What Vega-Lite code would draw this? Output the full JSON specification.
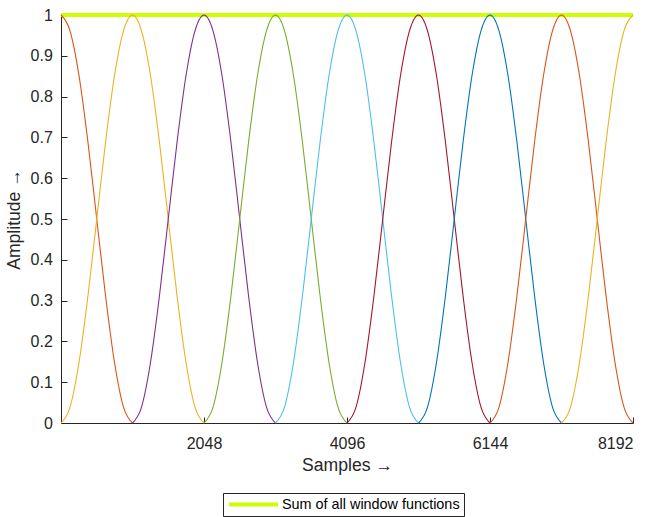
{
  "$schema": "https://vega.github.io/schema/vega-lite/v6.json",
  "width": 572,
  "height": 408,
  "autosize": {"type": "none"},
  "padding": {"left": 61, "top": 15, "right": 18, "bottom": 94},
  "background": "white",
  "config": {
    "view": {"stroke": null},
    "font": "Liberation Sans",
    "axis": {
      "grid": false,
      "domainColor": "#262626",
      "domainWidth": 1,
      "tickColor": "#262626",
      "tickSize": -6,
      "tickWidth": 1,
      "labelColor": "#262626",
      "labelFont": "Liberation Sans",
      "labelFontSize": 16,
      "titleFont": "Liberation Sans",
      "titleFontSize": 17.6,
      "titleFontWeight": "normal",
      "titleColor": "#262626"
    },
    "legend": {
      "labelFont": "Liberation Sans"
    }
  },
  "datasets": {
    "sum": [
      {"s": 0, "y": 1},
      {"s": 8192, "y": 1}
    ],
    "win": [
      {"w":"w0","s":0,"y":1},{"w":"w0","s":128,"y":0.9619},{"w":"w0","s":256,"y":0.8536},{"w":"w0","s":384,"y":0.6913},{"w":"w0","s":512,"y":0.5},{"w":"w0","s":640,"y":0.3087},{"w":"w0","s":768,"y":0.1464},{"w":"w0","s":896,"y":0.0381},{"w":"w0","s":1024,"y":0},
      {"w":"w1","s":0,"y":0},{"w":"w1","s":128,"y":0.0381},{"w":"w1","s":256,"y":0.1464},{"w":"w1","s":384,"y":0.3087},{"w":"w1","s":512,"y":0.5},{"w":"w1","s":640,"y":0.6913},{"w":"w1","s":768,"y":0.8536},{"w":"w1","s":896,"y":0.9619},{"w":"w1","s":1024,"y":1},{"w":"w1","s":1152,"y":0.9619},{"w":"w1","s":1280,"y":0.8536},{"w":"w1","s":1408,"y":0.6913},{"w":"w1","s":1536,"y":0.5},{"w":"w1","s":1664,"y":0.3087},{"w":"w1","s":1792,"y":0.1464},{"w":"w1","s":1920,"y":0.0381},{"w":"w1","s":2048,"y":0},
      {"w":"w2","s":1024,"y":0},{"w":"w2","s":1152,"y":0.0381},{"w":"w2","s":1280,"y":0.1464},{"w":"w2","s":1408,"y":0.3087},{"w":"w2","s":1536,"y":0.5},{"w":"w2","s":1664,"y":0.6913},{"w":"w2","s":1792,"y":0.8536},{"w":"w2","s":1920,"y":0.9619},{"w":"w2","s":2048,"y":1},{"w":"w2","s":2176,"y":0.9619},{"w":"w2","s":2304,"y":0.8536},{"w":"w2","s":2432,"y":0.6913},{"w":"w2","s":2560,"y":0.5},{"w":"w2","s":2688,"y":0.3087},{"w":"w2","s":2816,"y":0.1464},{"w":"w2","s":2944,"y":0.0381},{"w":"w2","s":3072,"y":0},
      {"w":"w3","s":2048,"y":0},{"w":"w3","s":2176,"y":0.0381},{"w":"w3","s":2304,"y":0.1464},{"w":"w3","s":2432,"y":0.3087},{"w":"w3","s":2560,"y":0.5},{"w":"w3","s":2688,"y":0.6913},{"w":"w3","s":2816,"y":0.8536},{"w":"w3","s":2944,"y":0.9619},{"w":"w3","s":3072,"y":1},{"w":"w3","s":3200,"y":0.9619},{"w":"w3","s":3328,"y":0.8536},{"w":"w3","s":3456,"y":0.6913},{"w":"w3","s":3584,"y":0.5},{"w":"w3","s":3712,"y":0.3087},{"w":"w3","s":3840,"y":0.1464},{"w":"w3","s":3968,"y":0.0381},{"w":"w3","s":4096,"y":0},
      {"w":"w4","s":3072,"y":0},{"w":"w4","s":3200,"y":0.0381},{"w":"w4","s":3328,"y":0.1464},{"w":"w4","s":3456,"y":0.3087},{"w":"w4","s":3584,"y":0.5},{"w":"w4","s":3712,"y":0.6913},{"w":"w4","s":3840,"y":0.8536},{"w":"w4","s":3968,"y":0.9619},{"w":"w4","s":4096,"y":1},{"w":"w4","s":4224,"y":0.9619},{"w":"w4","s":4352,"y":0.8536},{"w":"w4","s":4480,"y":0.6913},{"w":"w4","s":4608,"y":0.5},{"w":"w4","s":4736,"y":0.3087},{"w":"w4","s":4864,"y":0.1464},{"w":"w4","s":4992,"y":0.0381},{"w":"w4","s":5120,"y":0},
      {"w":"w5","s":4096,"y":0},{"w":"w5","s":4224,"y":0.0381},{"w":"w5","s":4352,"y":0.1464},{"w":"w5","s":4480,"y":0.3087},{"w":"w5","s":4608,"y":0.5},{"w":"w5","s":4736,"y":0.6913},{"w":"w5","s":4864,"y":0.8536},{"w":"w5","s":4992,"y":0.9619},{"w":"w5","s":5120,"y":1},{"w":"w5","s":5248,"y":0.9619},{"w":"w5","s":5376,"y":0.8536},{"w":"w5","s":5504,"y":0.6913},{"w":"w5","s":5632,"y":0.5},{"w":"w5","s":5760,"y":0.3087},{"w":"w5","s":5888,"y":0.1464},{"w":"w5","s":6016,"y":0.0381},{"w":"w5","s":6144,"y":0},
      {"w":"w6","s":5120,"y":0},{"w":"w6","s":5248,"y":0.0381},{"w":"w6","s":5376,"y":0.1464},{"w":"w6","s":5504,"y":0.3087},{"w":"w6","s":5632,"y":0.5},{"w":"w6","s":5760,"y":0.6913},{"w":"w6","s":5888,"y":0.8536},{"w":"w6","s":6016,"y":0.9619},{"w":"w6","s":6144,"y":1},{"w":"w6","s":6272,"y":0.9619},{"w":"w6","s":6400,"y":0.8536},{"w":"w6","s":6528,"y":0.6913},{"w":"w6","s":6656,"y":0.5},{"w":"w6","s":6784,"y":0.3087},{"w":"w6","s":6912,"y":0.1464},{"w":"w6","s":7040,"y":0.0381},{"w":"w6","s":7168,"y":0},
      {"w":"w7","s":6144,"y":0},{"w":"w7","s":6272,"y":0.0381},{"w":"w7","s":6400,"y":0.1464},{"w":"w7","s":6528,"y":0.3087},{"w":"w7","s":6656,"y":0.5},{"w":"w7","s":6784,"y":0.6913},{"w":"w7","s":6912,"y":0.8536},{"w":"w7","s":7040,"y":0.9619},{"w":"w7","s":7168,"y":1},{"w":"w7","s":7296,"y":0.9619},{"w":"w7","s":7424,"y":0.8536},{"w":"w7","s":7552,"y":0.6913},{"w":"w7","s":7680,"y":0.5},{"w":"w7","s":7808,"y":0.3087},{"w":"w7","s":7936,"y":0.1464},{"w":"w7","s":8064,"y":0.0381},{"w":"w7","s":8192,"y":0},
      {"w":"w8","s":7168,"y":0},{"w":"w8","s":7296,"y":0.0381},{"w":"w8","s":7424,"y":0.1464},{"w":"w8","s":7552,"y":0.3087},{"w":"w8","s":7680,"y":0.5},{"w":"w8","s":7808,"y":0.6913},{"w":"w8","s":7936,"y":0.8536},{"w":"w8","s":8064,"y":0.9619},{"w":"w8","s":8192,"y":1}
    ]
  },
  "layer": [
    {
      "data": {"name": "sum"},
      "mark": {"type": "line", "strokeWidth": 4, "clip": false},
      "encoding": {
        "x": {
          "field": "s", "type": "quantitative",
          "scale": {"domain": [0, 8192], "nice": false, "zero": false},
          "axis": {
            "values": [2048, 4096, 6144, 8192],
            "format": "d",
            "labelPadding": 18,
            "title": "Samples →",
            "titleY": 47.7,
            "titleBaseline": "alphabetic"
          }
        },
        "y": {
          "field": "y", "type": "quantitative",
          "scale": {"domain": [0, 1], "nice": false},
          "axis": {
            "values": [0, 0.1, 0.2, 0.3, 0.4, 0.5, 0.6, 0.7, 0.8, 0.9, 1],
            "format": "~g",
            "labelPadding": 14.7,
            "title": "Amplitude →",
            "titleX": -42,
            "titleAngle": -90,
            "titleBaseline": "alphabetic"
          }
        },
        "color": {
          "datum": "Sum of all window functions",
          "scale": {"range": ["#ccff00"]},
          "legend": {
            "orient": "none",
            "legendX": 162,
            "legendY": 478,
            "title": null,
            "symbolType": "stroke",
            "symbolSize": 2401,
            "symbolStrokeWidth": 4,
            "clipHeight": 15,
            "padding": 4,
            "strokeColor": "#262626",
            "fillColor": "white",
            "labelFontSize": 14.4,
            "labelColor": "#000000",
            "labelOffset": 2,
            "labelLimit": 400
          }
        }
      }
    },
    {
      "data": {"name": "win"},
      "mark": {"type": "line", "strokeWidth": 1.1, "interpolate": "monotone"},
      "encoding": {
        "x": {"field": "s", "type": "quantitative"},
        "y": {"field": "y", "type": "quantitative"},
        "color": {
          "field": "w", "type": "nominal",
          "scale": {
            "domain": ["w0","w1","w2","w3","w4","w5","w6","w7","w8"],
            "range": ["#D95319","#EDB120","#7E2F8E","#77AC30","#4DBEEE","#A2142F","#0072BD","#D95319","#EDB120"]
          },
          "legend": null
        }
      }
    }
  ],
  "resolve": {"scale": {"color": "independent"}}
}
